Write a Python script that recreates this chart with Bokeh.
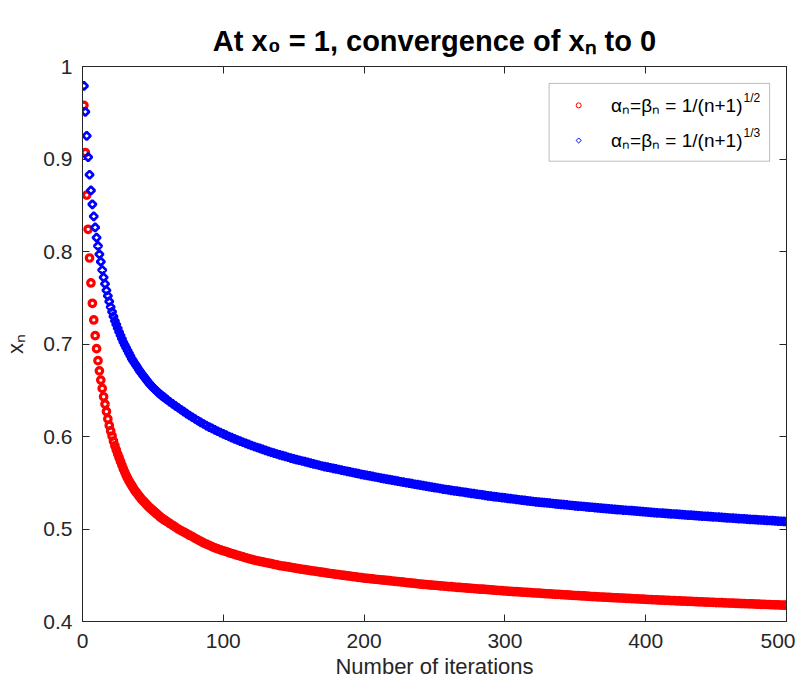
import math
from bokeh.plotting import figure
from bokeh.models import (Range1d, FixedTicker, LinearAxis, BoxAnnotation, Label,
                          CustomJSTickFormatter, ColumnDataSource)
from bokeh.embed import file_html
from bokeh.resources import INLINE

# ---------------- data ----------------
# iteration numbers at which a marker is drawn (markers overlap into a band)
iterations = list(range(1, 61)) + list(range(62, 501, 2))

x_alpha_half = [  # alpha_n = beta_n = 1/(n+1)^(1/2)  (red circles)
    # n = 1 .. 20
    0.958, 0.907, 0.861, 0.824, 0.793, 0.766, 0.744, 0.726, 0.709, 0.695,
    0.682, 0.671, 0.661, 0.652, 0.643, 0.635, 0.627, 0.619, 0.612, 0.606,
    # n = 21 .. 60
    0.6005, 0.595, 0.590, 0.5855, 0.581, 0.577, 0.573, 0.569, 0.565, 0.5615,
    0.558, 0.555, 0.552, 0.5495, 0.547, 0.5445, 0.542, 0.540, 0.538, 0.536,
    0.534, 0.532, 0.5305, 0.529, 0.5273, 0.5257, 0.524, 0.5227, 0.5213, 0.520,
    0.5187, 0.5173, 0.516, 0.5147, 0.5133, 0.512, 0.511, 0.510, 0.509, 0.508,
    # n = 62 .. 150 (step 2)
    0.506, 0.504, 0.502, 0.500, 0.4983, 0.4967, 0.495, 0.4933, 0.4917, 0.490,
    0.4883, 0.4867, 0.485, 0.4837, 0.4823, 0.481, 0.4797, 0.4785, 0.4775, 0.4765,
    0.4755, 0.4745, 0.4735, 0.4725, 0.4716, 0.4707, 0.4698, 0.4689, 0.4680, 0.4672,
    0.4664, 0.4657, 0.4651, 0.4644, 0.4638, 0.4632, 0.4625, 0.4618, 0.4612, 0.4605,
    0.4600, 0.4595, 0.4590, 0.4585, 0.4580,
    # n = 152 .. 500 (step 2)
    0.4575, 0.4570, 0.4565, 0.4560, 0.4555,
    0.4551, 0.4546, 0.4542, 0.4537, 0.4533, 0.4528, 0.4524, 0.4519, 0.4515, 0.4510,
    0.4506, 0.4502, 0.4498, 0.4494, 0.4490, 0.4486, 0.4482, 0.4478, 0.4474, 0.4470,
    0.4467, 0.4464, 0.4460, 0.4457, 0.4454, 0.4451, 0.4447, 0.4444, 0.4441, 0.4438,
    0.4434, 0.4431, 0.4428, 0.4425, 0.4421, 0.4418, 0.4415, 0.4412, 0.4408, 0.4405,
    0.4402, 0.4400, 0.4397, 0.4394, 0.4392, 0.4389, 0.4386, 0.4384, 0.4381, 0.4378,
    0.4376, 0.4373, 0.4370, 0.4368, 0.4365,
    0.4363, 0.4360, 0.4358, 0.4356, 0.4353, 0.4351, 0.4349, 0.4347, 0.4344, 0.4342,
    0.4340, 0.4337, 0.4335, 0.4333, 0.4330,
    0.4328, 0.4326, 0.4324, 0.4322, 0.4320, 0.4318, 0.4316, 0.4314, 0.4312, 0.4310,
    0.4308, 0.4306, 0.4304, 0.4302, 0.4300,
    0.4298, 0.4296, 0.4294, 0.4293, 0.4291, 0.4289, 0.4287, 0.4285, 0.4283, 0.4281,
    0.4280, 0.4278, 0.4276, 0.4274, 0.4272,
    0.4270, 0.4269, 0.4267, 0.4265, 0.4264, 0.4262, 0.4260, 0.4259, 0.4257, 0.4255,
    0.4254, 0.4252, 0.4250, 0.4249, 0.4247,
    0.4246, 0.4244, 0.4243, 0.4241, 0.4240, 0.4238, 0.4237, 0.4235, 0.4234, 0.4232,
    0.4231, 0.4229, 0.4228, 0.4226, 0.4225,
    0.4224, 0.4222, 0.4221, 0.4220, 0.4218, 0.4217, 0.4216, 0.4214, 0.4213, 0.4212,
    0.4210, 0.4209, 0.4208, 0.4206, 0.4205,
    0.4204, 0.4203, 0.4201, 0.4200, 0.4199, 0.4198, 0.4197, 0.4195, 0.4194, 0.4193,
    0.4192, 0.4191, 0.4190, 0.4188, 0.4187,
    0.4186, 0.4185, 0.4184, 0.4182, 0.4181, 0.4180, 0.4179, 0.4178, 0.4177, 0.4176,
]

x_alpha_third = [  # alpha_n = beta_n = 1/(n+1)^(1/3)  (blue diamonds)
    # n = 1 .. 20
    0.979, 0.951, 0.925, 0.902, 0.883, 0.866, 0.851, 0.838, 0.826, 0.815,
    0.806, 0.797, 0.789, 0.780, 0.772, 0.765, 0.758, 0.752, 0.746, 0.740,
    # n = 21 .. 60
    0.7348, 0.7298, 0.725, 0.721, 0.717, 0.713, 0.7093, 0.7057, 0.702, 0.699,
    0.696, 0.693, 0.690, 0.687, 0.684, 0.6817, 0.6793, 0.677, 0.6747, 0.6723,
    0.670, 0.668, 0.666, 0.664, 0.662, 0.660, 0.658, 0.6563, 0.6547, 0.653,
    0.6515, 0.6501, 0.6486, 0.6472, 0.6459, 0.6445, 0.6434, 0.6422, 0.6411, 0.6399,
    # n = 62 .. 150 (step 2)
    0.6375, 0.6353, 0.6332, 0.6311, 0.6289, 0.6268, 0.6247, 0.6227, 0.6208, 0.6189,
    0.6170, 0.6152, 0.6135, 0.6118, 0.6102, 0.6087, 0.6072, 0.6057, 0.6042, 0.6028,
    0.6014, 0.6000, 0.5987, 0.5975, 0.5962, 0.5950, 0.5938, 0.5926, 0.5915, 0.5903,
    0.5892, 0.5881, 0.5871, 0.5860, 0.5850, 0.5840, 0.5830, 0.5821, 0.5811, 0.5802,
    0.5793, 0.5785, 0.5776, 0.5767, 0.5759,
    # n = 152 .. 500 (step 2)
    0.5751, 0.5743, 0.5735, 0.5728, 0.5720, 0.5712, 0.5704, 0.5697, 0.5689, 0.5681,
    0.5675, 0.5668, 0.5662, 0.5655, 0.5649, 0.5643, 0.5636, 0.5630, 0.5623, 0.5617,
    0.5611, 0.5604, 0.5598, 0.5591, 0.5585,
    0.5579, 0.5574, 0.5568, 0.5562, 0.5557, 0.5551, 0.5545, 0.5540, 0.5534, 0.5528,
    0.5523, 0.5517, 0.5511, 0.5506, 0.5500,
    0.5495, 0.5490, 0.5484, 0.5479, 0.5474, 0.5469, 0.5464, 0.5458, 0.5453, 0.5448,
    0.5443, 0.5438, 0.5432, 0.5427, 0.5422,
    0.5418, 0.5413, 0.5409, 0.5404, 0.5400, 0.5395, 0.5391, 0.5386, 0.5382, 0.5377,
    0.5373, 0.5368, 0.5364, 0.5359, 0.5355,
    0.5351, 0.5347, 0.5343, 0.5340, 0.5336, 0.5332, 0.5328, 0.5324, 0.5320, 0.5316,
    0.5312, 0.5309, 0.5305, 0.5301, 0.5297,
    0.5294, 0.5291, 0.5288, 0.5285, 0.5282, 0.5279, 0.5276, 0.5272, 0.5269, 0.5266,
    0.5263, 0.5260, 0.5257, 0.5254, 0.5251,
    0.5248, 0.5246, 0.5243, 0.5240, 0.5237, 0.5235, 0.5232, 0.5229, 0.5226, 0.5223,
    0.5221, 0.5218, 0.5215, 0.5213, 0.5210,
    0.5208, 0.5205, 0.5203, 0.5200, 0.5198, 0.5195, 0.5193, 0.5190, 0.5188, 0.5185,
    0.5183, 0.5180, 0.5178, 0.5175, 0.5173,
    0.5171, 0.5169, 0.5166, 0.5164, 0.5162, 0.5160, 0.5158, 0.5156, 0.5153, 0.5151,
    0.5149, 0.5147, 0.5144, 0.5142, 0.5140,
    0.5138, 0.5136, 0.5134, 0.5132, 0.5130, 0.5128, 0.5126, 0.5123, 0.5121, 0.5119,
    0.5117, 0.5115, 0.5113, 0.5111, 0.5109,
    0.5107, 0.5105, 0.5103, 0.5101, 0.5099, 0.5097, 0.5095, 0.5093, 0.5092, 0.5090,
    0.5088, 0.5086, 0.5084, 0.5082, 0.5080,
]

x_ticks = [0, 100, 200, 300, 400, 500]
y_ticks = [0.4, 0.5, 0.6, 0.7, 0.8, 0.9, 1.0]
y_tick_labels = {1.0: "1"}

title_text = "At x\u2080 = 1, convergence of x\u2099 to 0"
x_label = "Number of iterations"
y_label = "x\u2099"
legend_main = "\u03b1\u2099=\u03b2\u2099 = 1/(n+1)"
legend_sup = ["1/2", "1/3"]

assert len(iterations) == len(x_alpha_half) == len(x_alpha_third)

# ---------------- figure ----------------
FONT = "Liberation Sans"
AX = "#262626"

p = figure(width=795, height=681, output_backend="svg", toolbar_location=None,
           x_range=Range1d(0, 500), y_range=Range1d(0.4, 1.0),
           min_border_left=80, min_border_right=9, min_border_top=66,
           min_border_bottom=58)
p.xgrid.visible = False
p.ygrid.visible = False
p.outline_line_color = AX
p.outline_line_width = 1
p.background_fill_color = "white"
p.border_fill_color = "white"

p.title.text = title_text
p.title.align = "center"
p.title.text_font = FONT
p.title.text_font_size = "29px"
p.title.text_font_style = "bold"
p.title.text_color = "black"
p.title.standoff = 19

def style_axis(ax):
    ax.axis_line_color = AX
    ax.major_tick_line_color = AX
    ax.major_tick_in = 7
    ax.major_tick_out = 0
    ax.minor_tick_line_color = None
    ax.major_label_text_font = FONT
    ax.major_label_text_font_size = "21px"
    ax.major_label_text_color = AX
    ax.axis_label_text_font = FONT
    ax.axis_label_text_font_size = "22px"
    ax.axis_label_text_font_style = "normal"
    ax.axis_label_text_color = AX

xa = p.xaxis[0]
xa.ticker = FixedTicker(ticks=x_ticks)
style_axis(xa)
xa.axis_label = x_label
xa.major_label_standoff = 12
xa.axis_label_standoff = 3

ya = p.yaxis[0]
ya.ticker = FixedTicker(ticks=y_ticks)
ya.major_label_overrides = y_tick_labels
style_axis(ya)
ya.axis_label = y_label
ya.major_label_standoff = 10
ya.axis_label_standoff = 12

blank = CustomJSTickFormatter(code="return ''")
for loc, ticks in (("right", y_ticks), ("above", x_ticks)):
    ax = LinearAxis(ticker=FixedTicker(ticks=ticks), formatter=blank)
    style_axis(ax)
    ax.major_label_text_font_size = "1px"
    ax.major_label_standoff = 0
    p.add_layout(ax, loc)

src = ColumnDataSource(dict(n=iterations, half=x_alpha_half, third=x_alpha_third))

p.scatter("n", "half", source=src, marker="circle", size=6.5, fill_color=None,
          line_color="#ff0000", line_width=3.2)
p.scatter("n", "third", source=src, marker="square", angle=math.pi / 4, size=5.5,
          fill_color=None, line_color="#0000ff", line_width=2.7)

# ---------------- legend (drawn by hand for the superscripts) ----------------
p.add_layout(BoxAnnotation(left=331.4, right=488, top=0.9817, bottom=0.8976,
                           fill_color="white", fill_alpha=1.0,
                           line_color=AX, line_width=1, level="underlay"))
leg_y = [0.958, 0.920]
p.scatter([352.4], [leg_y[0]], marker="circle", size=5, fill_color=None,
          line_color="#ff0000", line_width=1)
p.scatter([352.4], [leg_y[1]], marker="square", angle=math.pi / 4, size=3.6,
          fill_color=None, line_color="#0000ff", line_width=1)
for yy, sup in zip(leg_y, legend_sup):
    p.add_layout(Label(x=375.4, y=yy, text=legend_main, text_font=FONT,
                       text_font_size="19px", text_baseline="middle",
                       text_color="black"))
    p.add_layout(Label(x=469.5, y=yy + 0.008, text=sup, text_font=FONT,
                       text_font_size="12px", text_baseline="middle",
                       text_color="black"))

open("out.html", "w").write(file_html(p, INLINE))
